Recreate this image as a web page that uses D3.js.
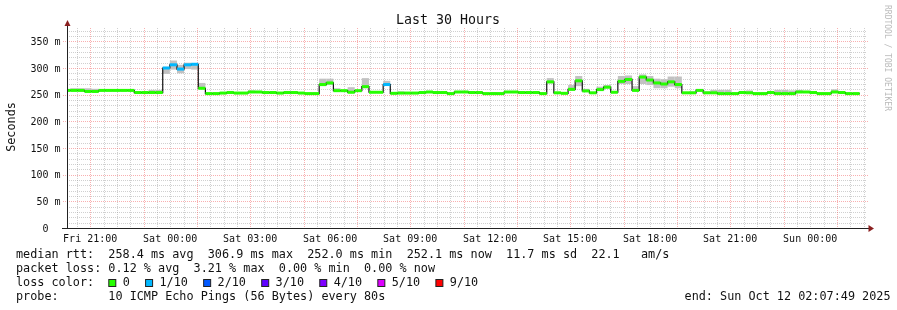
<!DOCTYPE html>
<html>
<head>
<meta charset="utf-8">
<script src="https://cdn.jsdelivr.net/npm/d3@7"></script>
<style>
  body { margin: 0; background: #fff; }
  svg { display: block; font-family: "DejaVu Sans Mono", monospace; }
  text { white-space: pre; }
</style>
</head>
<body>
<svg id="chart" width="897" height="310"></svg>
<script>
// time window of the graph and the 16 minute consolidation steps
const startTime = new Date(2025, 9, 10, 20, 7, 49);
const endTime = new Date(2025, 9, 12, 2, 7, 49);
const firstStep = new Date(2025, 9, 10, 19, 59, 13);
const stepMinutes = 16;

// median rtt per step (ms)
const median = [
  258, 258, 258, 256, 256, 258, 258, 258, 258, 258,
  254, 254, 254, 254, 300, 306, 298, 306, 307, 262,
  252, 252, 253, 254, 253, 253, 255, 255, 254, 254,
  253, 254, 254, 253, 252, 252, 269, 272, 257.5, 257.5,
  254.5, 257.5, 265, 254.5, 254.5, 269, 252.5, 253, 253, 253,
  254, 255, 254, 254, 252, 255, 255, 254, 254, 252,
  252, 252, 255, 255, 254, 254, 254, 252, 274, 253.5,
  252.5, 260, 276, 257, 253.5, 259.5, 264, 254.5, 275, 278.5,
  258, 283, 277.5, 272, 270, 274, 269, 253.5, 253.5, 258,
  253.5, 253.5, 252, 252, 252, 254, 253.5, 252, 252, 254,
  252, 252, 252, 255, 255, 254, 252, 252, 255, 254,
  252, 252
];

// smoke: lowest and highest ping per step (ms)
const smokeLo = [
  256.5, 256.5, 256.5, 254.5, 254.5, 256.5, 256.5, 256.5, 256.5, 256.5,
  252.5, 252.5, 252.5, 252.5, 289, 297, 290, 298, 297, 260,
  250.5, 250.5, 251.5, 252.5, 251.5, 251.5, 253.5, 253.5, 252.5, 252.5,
  251.5, 252.5, 252.5, 251.5, 250.5, 250.5, 266, 268, 256, 256,
  253, 256, 262, 253, 253, 267, 251, 251.5, 251.5, 251.5,
  252.5, 253.5, 252.5, 252.5, 250.5, 253.5, 253.5, 252.5, 252.5, 250.5,
  250.5, 250.5, 253.5, 253.5, 252.5, 252.5, 252.5, 250.5, 271, 252,
  251, 257, 266, 255.5, 252, 258, 262, 253, 270, 270,
  256.5, 270, 268, 262, 262, 265, 262, 252, 252, 256.5,
  252, 252, 250.5, 250.5, 250.5, 252.5, 252, 250.5, 250.5, 252.5,
  250.5, 250.5, 250.5, 253.5, 253.5, 252.5, 250.5, 250.5, 253.5, 252.5,
  250.5, 250.5
];
const smokeHi = [
  259, 262, 262, 262, 261, 260, 260, 260, 260, 260,
  255.5, 256, 259, 259, 302, 314, 306, 310, 309, 272,
  254, 254, 255, 257, 255, 255, 258, 257, 256, 256,
  255, 257, 256, 255, 254, 254, 280, 280, 262, 259,
  264, 258, 281, 256, 256, 276, 254, 256, 255, 255,
  256, 257, 256, 256, 254, 257, 257, 256, 256, 254,
  255, 254, 257, 257, 256, 256, 256, 254, 281, 255,
  254, 268, 285, 261, 255, 265, 268, 256, 285, 286,
  266, 288, 285, 280, 279, 284, 284, 255, 256, 260,
  256, 259, 259, 259, 254, 257, 258, 254, 254, 257,
  259, 259, 258, 259, 257, 256, 254, 254, 260, 256,
  254, 254
];

// lost pings out of 10 per step
const lossTenths = [
  0, 0, 0, 0, 0, 0, 0, 0, 0, 0,
  0, 0, 0, 0, 1, 1, 1, 1, 1, 0,
  0, 0, 0, 0, 0, 0, 0, 0, 0, 0,
  0, 0, 0, 0, 0, 0, 0, 0, 0, 0,
  0, 0, 0, 0, 0, 1, 0, 0, 0, 0,
  0, 0, 0, 0, 0, 0, 0, 0, 0, 0,
  0, 0, 0, 0, 0, 0, 0, 0, 0, 0,
  0, 0, 0, 0, 0, 0, 0, 0, 0, 0,
  0, 0, 0, 0, 0, 0, 0, 0, 0, 0,
  0, 0, 0, 0, 0, 0, 0, 0, 0, 0,
  0, 0, 0, 0, 0, 0, 0, 0, 0, 0,
  0, 0
];

const yTicks = [0, 50, 100, 150, 200, 250, 300, 350];
const yTickLabels = ["0  ", "50 m", "100 m", "150 m", "200 m", "250 m", "300 m", "350 m"];

const lossLabels = ["0", "1/10", "2/10", "3/10", "4/10", "5/10", "9/10"];
const lossColors = ["#26ff00", "#00b8ff", "#0059ff", "#5e00ff", "#7e00ff", "#dd00ff", "#ff0000"];

const statLines = [
  "median rtt:  258.4 ms avg  306.9 ms max  252.0 ms min  252.1 ms now  11.7 ms sd  22.1   am/s",
  "packet loss: 0.12 % avg  3.21 % max  0.00 % min  0.00 % now",
  "loss color:",
  "probe:       10 ICMP Echo Pings (56 Bytes) every 80s"
];
const endLabel = "end: Sun Oct 12 02:07:49 2025";
const title = "Last 30 Hours";
const yTitle = "Seconds";
const watermark = "RRDTOOL / TOBI OETIKER";

const svg = d3.select("#chart");
const pLeft = 67, pRight = 867, pTop = 28, pBottom = 228;

const x = d3.scaleTime().domain([startTime, endTime]).range([pLeft, pRight]);
const y = d3.scaleLinear().domain([0, 375]).range([pBottom, pTop]);
const lossColor = d3.scaleThreshold().domain([1, 2, 3, 4, 5, 6]).range(lossColors);

const minorGrid = "rgba(150,150,150,0.45)";
const majorGrid = "rgba(240,80,80,0.45)";

// grid
const grid = svg.append("g");
d3.range(10, 375, 10).filter(v => v % 50 !== 0).forEach(v => {
  grid.append("line")
    .attr("x1", pLeft).attr("x2", pRight)
    .attr("y1", Math.round(y(v)) + 0.5).attr("y2", Math.round(y(v)) + 0.5)
    .attr("stroke", minorGrid).attr("stroke-dasharray", "1,1");
});
d3.timeMinute.every(30).range(startTime, endTime).forEach(t => {
  const major = t.getMinutes() === 0 && t.getHours() % 2 === 1;
  grid.append("line")
    .attr("x1", Math.round(x(t)) + 0.5).attr("x2", Math.round(x(t)) + 0.5)
    .attr("y1", pTop).attr("y2", pBottom)
    .attr("stroke", major ? majorGrid : minorGrid)
    .attr("stroke-dasharray", "1,1");
});
yTicks.filter(v => v > 0).forEach(v => {
  grid.append("line")
    .attr("x1", pLeft - 4).attr("x2", pRight + 1)
    .attr("y1", Math.round(y(v)) + 0.5).attr("y2", Math.round(y(v)) + 0.5)
    .attr("stroke", majorGrid).attr("stroke-dasharray", "1,1");
});

// data
const steps = median.map((m, i) => ({
  t0: d3.timeMinute.offset(firstStep, i * stepMinutes),
  t1: d3.timeMinute.offset(firstStep, (i + 1) * stepMinutes),
  med: m, lo: smokeLo[i], hi: smokeHi[i], loss: lossTenths[i]
}));

svg.append("clipPath").attr("id", "plot")
  .append("rect").attr("x", pLeft).attr("y", 0).attr("width", pRight - pLeft).attr("height", pBottom);

const plot = svg.append("g").attr("clip-path", "url(#plot)");

plot.selectAll("rect.smoke").data(steps).join("rect")
  .attr("class", "smoke")
  .attr("x", d => x(d.t0)).attr("width", d => x(d.t1) - x(d.t0))
  .attr("y", d => y(d.hi)).attr("height", d => y(d.lo) - y(d.hi))
  .attr("fill", "#c2c2c2");

const stepLine = d3.line()
  .x(d => x(d.t))
  .y(d => y(d.v))
  .curve(d3.curveStepAfter);
const linePts = steps.map(d => ({ t: d.t0, v: d.med }));
linePts.push({ t: steps[steps.length - 1].t1, v: steps[steps.length - 1].med });

plot.append("path")
  .datum(linePts)
  .attr("d", stepLine)
  .attr("fill", "none")
  .attr("stroke", "#111")
  .attr("stroke-width", 1.2);

plot.selectAll("rect.med").data(steps).join("rect")
  .attr("class", "med")
  .attr("x", d => x(d.t0)).attr("width", d => x(d.t1) - x(d.t0))
  .attr("y", d => y(d.med) - 1.5).attr("height", 3)
  .attr("fill", d => lossColor(d.loss));

// axes
const axisCol = "#222";
svg.append("line").attr("x1", pLeft + 0.5).attr("x2", pLeft + 0.5).attr("y1", pBottom + 0.5).attr("y2", 25)
  .attr("stroke", axisCol);
svg.append("line").attr("x1", pLeft - 5).attr("x2", pRight + 2).attr("y1", pBottom + 0.5).attr("y2", pBottom + 0.5)
  .attr("stroke", axisCol);
svg.append("path").attr("d", "M64.5,26 L70.5,26 L67.5,20 Z").attr("fill", "#8b2020");
svg.append("path").attr("d", "M868.5,225 L868.5,232 L874,228.5 Z").attr("fill", "#8b2020");

// text layer (grayscale antialiasing)
const txt = svg.append("g").attr("opacity", 0.999).attr("fill", "#111");

txt.append("g").selectAll("text").data(yTicks).join("text")
  .attr("x", 60.5).attr("y", d => y(d) + 3.6)
  .attr("text-anchor", "end")
  .attr("font-size", 10)
  .text((d, i) => yTickLabels[i]);

txt.append("g").selectAll("text").data(x.ticks(d3.timeHour.every(3))).join("text")
  .attr("x", d => x(d)).attr("y", 241.5)
  .attr("text-anchor", "middle")
  .attr("font-size", 10)
  .text(d3.timeFormat("%a %H:%M"));

// titles
txt.append("text").attr("x", 448).attr("y", 24).attr("text-anchor", "middle")
  .attr("font-size", 13.3).text(title);
txt.append("text").attr("transform", "translate(15,127) rotate(-90)").attr("text-anchor", "middle")
  .attr("font-size", 11.8).text(yTitle);
txt.append("text").attr("transform", "translate(885,5) rotate(90)")
  .attr("font-size", 8).attr("fill", "#bbb").text(watermark);

// legend
const legY = [258, 272, 286, 300];
txt.append("g").selectAll("text").data(statLines).join("text")
  .attr("x", 16).attr("y", (d, i) => legY[i])
  .attr("font-size", 11.8)
  .text(d => d);
txt.append("text").attr("x", 890.5).attr("y", legY[3]).attr("text-anchor", "end")
  .attr("font-size", 11.8).text(endLabel);

const charW = 7.09;
let lx = 108.3;
lossLabels.forEach((lab, i) => {
  txt.append("rect").attr("x", lx + 0.5).attr("y", 279.5).attr("width", 7).attr("height", 7)
    .attr("fill", lossColors[i]).attr("stroke", "#222").attr("stroke-width", 1);
  txt.append("text").attr("x", lx + 14.4).attr("y", legY[2])
    .attr("font-size", 11.8).text(lab);
  lx += 14.4 + lab.length * charW + 15.3;
});
</script>
</body>
</html>
